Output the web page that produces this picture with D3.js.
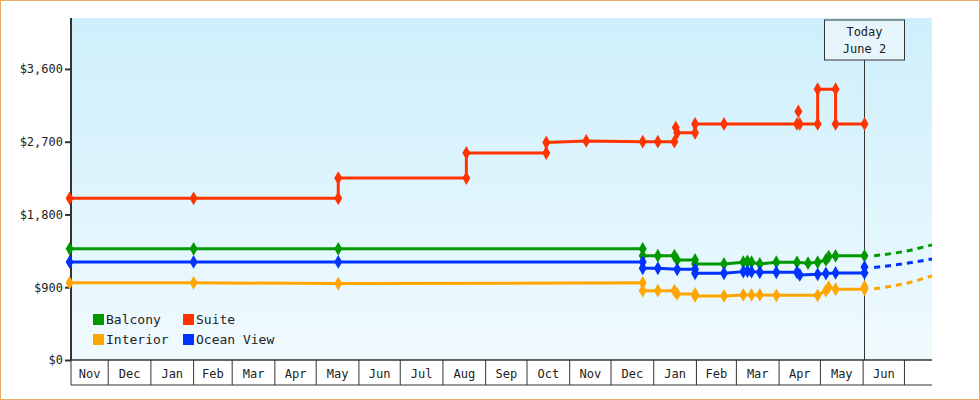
<!DOCTYPE html>
<html><head><meta charset="utf-8">
<script src="https://cdn.jsdelivr.net/npm/d3@7"></script>
<style>
body{margin:0;background:#fff}
svg text{font-family:"DejaVu Sans Mono",monospace;fill:#222}
</style></head>
<body><svg id="chart" width="980" height="400"></svg>
<script>
// price history, [date, price]; a repeated date marks a price change
const suite = [["2022-11-03",2000],["2023-02-01",2000],["2023-05-17",2000],["2023-05-17",2250],["2023-08-18",2250],["2023-08-18",2560],
  ["2023-10-15",2560],["2023-10-15",2690],["2023-11-13",2710],["2023-12-24",2700],["2024-01-04",2700],["2024-01-16",2700],
  ["2024-01-18",2810],["2024-01-31",2810],["2024-01-31",2920],["2024-02-21",2920],["2024-04-14",2920],["2024-04-16",2920],
  ["2024-04-29",2920],["2024-04-29",3350],["2024-05-12",3350],["2024-05-12",2920],["2024-06-02",2920]];
const suiteExtra = [["2024-04-15",3075],["2024-01-17",2875]];
const balcony = [["2022-11-03",1375],["2023-02-01",1375],["2023-05-17",1375],["2023-12-24",1375],["2023-12-24",1290],["2024-01-04",1290],
  ["2024-01-16",1290],["2024-01-18",1238],["2024-01-31",1238],["2024-01-31",1188],["2024-02-21",1188],["2024-03-06",1209],
  ["2024-03-09",1221],["2024-03-12",1209],["2024-03-18",1188],["2024-03-30",1209],["2024-04-14",1209],["2024-04-22",1197],
  ["2024-04-29",1209],["2024-05-05",1238],["2024-05-07",1279],["2024-05-12",1288],["2024-06-02",1288]];
const oceanView = [["2022-11-03",1213],["2023-02-01",1213],["2023-05-17",1213],["2023-12-24",1213],["2023-12-24",1135],["2024-01-04",1135],
  ["2024-01-18",1122],["2024-01-31",1122],["2024-01-31",1073],["2024-02-21",1073],["2024-03-06",1093],["2024-03-09",1100],
  ["2024-03-12",1093],["2024-03-18",1085],["2024-03-30",1085],["2024-04-14",1085],["2024-04-16",1052],["2024-04-29",1060],
  ["2024-05-05",1070],["2024-05-12",1077],["2024-06-02",1077],["2024-06-02",1150]];
const interior = [["2022-11-03",955],["2023-02-01",955],["2023-05-17",945],["2023-12-24",955],["2023-12-24",858],["2024-01-04",858],
  ["2024-01-16",858],["2024-01-18",817],["2024-01-31",817],["2024-01-31",792],["2024-02-21",792],["2024-03-06",805],
  ["2024-03-12",805],["2024-03-18",805],["2024-03-30",800],["2024-04-29",800],["2024-05-05",858],["2024-05-07",900],
  ["2024-05-12",875],["2024-06-02",875],["2024-06-02",905]];
// projected prices after today
const balconyFc = [["2024-06-09",1290],["2024-06-30",1340],["2024-07-21",1424]];
const oceanFc = [["2024-06-09",1145],["2024-06-30",1190],["2024-07-21",1250]];
const interiorFc = [["2024-06-09",880],["2024-06-30",940],["2024-07-21",1040]];
const yTicks = [0,900,1800,2700,3600];
const series = [
  {name:"Balcony",color:"#009900",data:balcony,fc:balconyFc},
  {name:"Interior",color:"#ffa500",data:interior,fc:interiorFc},
  {name:"Ocean View",color:"#0033ff",data:oceanView,fc:oceanFc},
  {name:"Suite",color:"#ff3300",data:suite,fc:null,extra:suiteExtra}
];
const legendOrder = ["Balcony","Suite","Interior","Ocean View"];
const today = "2024-06-02";

const parse = d3.timeParse("%Y-%m-%d");
const svg = d3.select("#chart");
const m = {l:71, r:932, t:18, b:360};
const x = d3.scaleTime().domain([parse("2022-11-04"), parse("2024-07-21")]).range([m.l, m.r]);
const y = d3.scaleLinear().domain([0,4230]).range([m.b, m.t]);

svg.append("rect").attr("x",0.5).attr("y",0.5).attr("width",979).attr("height",399)
  .attr("fill","#fff").attr("stroke","#e8aa66");

const grad = svg.append("defs").append("linearGradient").attr("id","bg").attr("x1",0).attr("x2",0).attr("y1",0).attr("y2",1);
grad.append("stop").attr("offset","0%").attr("stop-color","#cdeffb");
grad.append("stop").attr("offset","100%").attr("stop-color","#f0fafe");
svg.append("rect").attr("x",m.l).attr("y",m.t).attr("width",m.r-m.l).attr("height",m.b-m.t).attr("fill","url(#bg)");

// y axis
const ya = svg.append("g").attr("transform",`translate(${m.l},0)`)
  .call(d3.axisLeft(y).tickValues(yTicks).tickSize(6).tickFormat(d => "$" + d3.format(",")(d)));
ya.select(".domain").attr("d",`M0,${m.t}V${m.b}`).attr("stroke","#333").attr("stroke-width",2);
ya.selectAll(".tick line").attr("stroke","#333").attr("stroke-width",2);
ya.selectAll("text").attr("font-size",12).attr("x",-8);

// month cells
const months = d3.timeMonth.range(parse("2022-11-01"), parse("2024-08-01"));
const bounds = months.map(d => x(d)).filter(v => v > m.l && v < m.r);
const edges = [m.l, ...bounds, m.r];
const xa = svg.append("g");
xa.append("line").attr("x1",m.l).attr("x2",m.r).attr("y1",m.b).attr("y2",m.b).attr("stroke","#333").attr("stroke-width",1.5);
xa.append("line").attr("x1",m.l).attr("x2",m.r).attr("y1",385).attr("y2",385).attr("stroke","#333");
xa.selectAll(".sep").data(edges.slice(0,-1)).join("line")
  .attr("x1",d=>d).attr("x2",d=>d).attr("y1",m.b).attr("y2",385).attr("stroke","#333");
months.forEach(mo => {
  const a = Math.max(x(mo), m.l), b = Math.min(x(d3.timeMonth.offset(mo,1)), m.r);
  if (b - a < 30) return;
  xa.append("text").attr("x",(a+b)/2).attr("y",378).attr("text-anchor","middle").attr("font-size",12)
    .text(d3.timeFormat("%b")(mo));
});

// today marker
const tx = x(parse(today));
svg.append("line").attr("x1",tx).attr("x2",tx).attr("y1",60).attr("y2",m.b).attr("stroke","#333");
svg.append("rect").attr("x",tx-40).attr("y",20).attr("width",80).attr("height",40).attr("fill","#e6f6fc").attr("stroke","#333");
svg.append("text").attr("x",tx).attr("y",36).attr("text-anchor","middle").attr("font-size",12).text("Today");
svg.append("text").attr("x",tx).attr("y",53).attr("text-anchor","middle").attr("font-size",12).text("June 2");

const line = d3.line().x(d => x(parse(d[0]))).y(d => y(d[1]));
const diamond = d3.symbol().type(d3.symbolDiamond).size(55);
series.forEach(s => {
  svg.append("path").attr("d",line(s.data)).attr("fill","none").attr("stroke",s.color).attr("stroke-width",3);
  if (s.fc) svg.append("path").attr("d",line.curve(d3.curveMonotoneX)(s.fc)).attr("fill","none")
    .attr("stroke",s.color).attr("stroke-width",3).attr("stroke-dasharray","6,5");
  line.curve(d3.curveLinear);
  svg.selectAll(null).data(s.data.concat(s.extra || [])).join("path")
    .attr("transform",d => `translate(${x(parse(d[0]))},${y(d[1])})`)
    .attr("d",diamond).attr("fill",s.color);
});

// legend
const lg = svg.append("g");
legendOrder.forEach((n,i) => {
  const s = series.find(t => t.name === n);
  const gx = 93 + (i % 2) * 90, gy = 314 + Math.floor(i/2) * 20;
  lg.append("rect").attr("x",gx).attr("y",gy).attr("width",11).attr("height",11).attr("fill",s.color);
  lg.append("text").attr("x",gx+13).attr("y",gy+10).attr("font-size",13).text(n);
});
</script></body></html>
